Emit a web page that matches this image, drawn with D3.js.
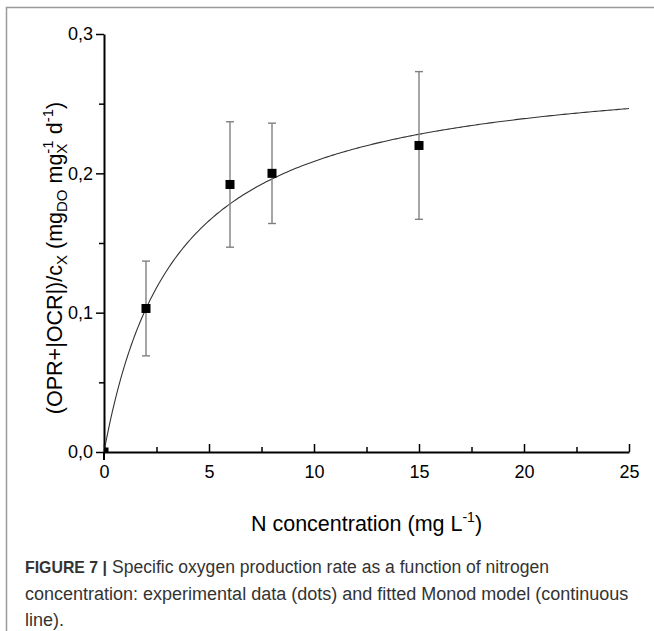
<!DOCTYPE html>
<html>
<head>
<meta charset="utf-8">
<script src="https://cdn.jsdelivr.net/npm/d3@7"></script>
<style>
body{margin:0;background:#fff;}
text{font-family:"Liberation Sans",Arial,sans-serif;}
</style>
</head>
<body>
<div id="chart"></div>
<script>
// measured points (N concentration, rate, error)
let nConc=[0,2,6,8,15];
let rate=[0,0.103,0.192,0.200,0.220];
let rateErr=[0,0.034,0.045,0.036,0.053];
let xTicks=[0,5,10,15,20,25];
let yTicks=[0,0.1,0.2,0.3];
// fitted Monod model parameters
let muMax=0.2805;
let ks=3.45;

let width=654, height=631;
let padL=104, padR=629, padT=34, padB=452;

let svg=d3.select("#chart").append("svg")
.attr("width",width)
.attr("height",height);

// panel frame
svg.append("path")
.attr("d","M6.5,"+height+"V7.5H"+width)
.attr("fill","none")
.attr("stroke","#9a9a9a")
.attr("stroke-width",1.5);

let x=d3.scaleLinear().domain([0,25]).range([padL,padR]);
let y=d3.scaleLinear().domain([0,0.3]).range([padB,padT]);

svg.append("defs").append("clipPath").attr("id","plot")
.append("rect")
.attr("x",padL).attr("y",padT-5)
.attr("width",padR-padL+5).attr("height",padB-padT+5);

let fmt=d3.format(".1f");
function comma(d){return fmt(d).replace(".",",");}

// minor ticks
let xMinor=d3.axisBottom(x).tickValues(d3.range(2.5,25,5)).tickSize(-5).tickFormat("");
let yMinor=d3.axisLeft(y).tickValues([0.05,0.15,0.25]).tickSize(5).tickFormat("");
svg.append("g").attr("transform","translate(0,"+padB+")").call(xMinor)
.call(g=>g.select(".domain").remove());
svg.append("g").attr("transform","translate("+padL+",0)").call(yMinor)
.call(g=>g.select(".domain").remove());

// x axis, ticks point inward
let xAxis=d3.axisBottom(x).tickValues(xTicks).tickSize(-8).tickSizeOuter(0).tickFormat(d3.format("d"));
let gx=svg.append("g").attr("transform","translate(0,"+padB+")").call(xAxis);
gx.selectAll(".tick text").attr("y",13).attr("dy","0.71em");

// y axis
let yAxis=d3.axisLeft(y).tickValues(yTicks).tickSize(8).tickSizeOuter(0).tickFormat(comma);
let gy=svg.append("g").attr("transform","translate("+padL+",0)").call(yAxis);
gy.selectAll(".tick text").attr("x",-11);

svg.selectAll(".domain").attr("stroke-width",2).attr("stroke","#000");
svg.selectAll(".tick line").attr("stroke","#000").attr("stroke-width",1.5);
svg.selectAll(".tick text").attr("font-size",18).attr("fill","#000")
.attr("font-family","'Liberation Sans',Arial,sans-serif");

// y axis tail below origin
svg.append("line")
.attr("x1",x(0)).attr("x2",x(0))
.attr("y1",y(0)).attr("y2",y(0)+8)
.attr("stroke","#000").attr("stroke-width",2);

// fitted curve
let curveX=d3.range(0,25.001,0.1);
let line=d3.line()
.x(d=>x(d))
.y(d=>y(muMax*d/(ks+d)));
svg.append("path")
.datum(curveX)
.attr("d",line)
.attr("fill","none")
.attr("stroke","#333")
.attr("stroke-width",1.1);

// error bars
let pts=nConc.map((d,i)=>({n:d,v:rate[i],e:rateErr[i]}));
let eb=svg.append("g").attr("stroke","#808080").attr("stroke-width",1.4);
pts.filter(d=>d.e>0).forEach(function(d){
    eb.append("line").attr("x1",x(d.n)).attr("x2",x(d.n)).attr("y1",y(d.v+d.e)).attr("y2",y(d.v-d.e));
    eb.append("line").attr("x1",x(d.n)-4).attr("x2",x(d.n)+4).attr("y1",y(d.v+d.e)).attr("y2",y(d.v+d.e));
    eb.append("line").attr("x1",x(d.n)-4).attr("x2",x(d.n)+4).attr("y1",y(d.v-d.e)).attr("y2",y(d.v-d.e));
});

// square markers
svg.append("g").attr("clip-path","url(#plot)")
.selectAll("rect")
.data(pts)
.enter()
.append("rect")
.attr("x",d=>x(d.n)-4.5)
.attr("y",d=>y(d.v)-4.5)
.attr("width",9)
.attr("height",9)
.attr("fill","#000");

// x label
let xl=svg.append("text")
.attr("x",(padL+padR)/2)
.attr("y",531)
.attr("text-anchor","middle")
.attr("font-size",21.5)
.attr("fill","#000");
xl.append("tspan").text("N concentration (mg L");
xl.append("tspan").attr("font-size",14).attr("dy",-9).text("-1");
xl.append("tspan").attr("dy",9).text(")");

// y label
let yl=svg.append("text")
.attr("transform","translate(62,"+258+") rotate(-90)")
.attr("text-anchor","middle")
.attr("font-size",21.5)
.attr("fill","#000");
yl.append("tspan").text("(OPR+|OCR|)/c");
yl.append("tspan").attr("font-size",15).attr("dy",5).text("X");
yl.append("tspan").attr("dy",-5).text(" (mg");
yl.append("tspan").attr("font-size",15).attr("dy",5).text("DO");
yl.append("tspan").attr("dy",-5).text(" mg");
yl.append("tspan").attr("font-size",15).attr("dy",5).text("X");
yl.append("tspan").attr("font-size",15).attr("dx",-10).attr("dy",-14).text("-1");
yl.append("tspan").attr("dy",9).text(" d");
yl.append("tspan").attr("font-size",15).attr("dy",-9).text("-1");
yl.append("tspan").attr("dy",9).text(")");

// caption
let cap=["concentration: experimental data (dots) and fitted Monod model (continuous","line)."];
let c1=svg.append("text").attr("x",25).attr("y",573).attr("font-size",18).attr("fill","#333");
c1.append("tspan").attr("font-weight","bold").attr("font-size",17)
.attr("textLength",82).attr("lengthAdjust","spacingAndGlyphs").text("FIGURE 7 |");
c1.append("tspan").attr("dx",5).attr("textLength",437).attr("lengthAdjust","spacingAndGlyphs")
.text("Specific oxygen production rate as a function of nitrogen");
svg.selectAll(".cap")
.data(cap)
.enter()
.append("text")
.attr("class","cap")
.attr("x",25)
.attr("y",(d,i)=>600+i*26)
.attr("font-size",18)
.attr("fill","#333")
.text(d=>d);
</script>
</body>
</html>
